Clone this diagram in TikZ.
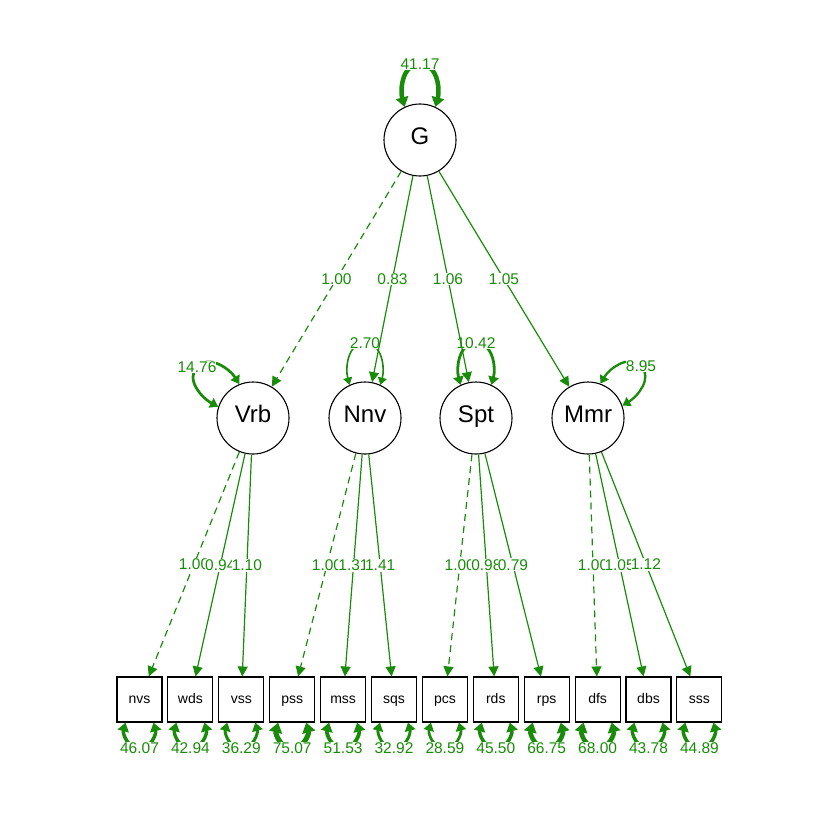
\documentclass[tikz,border=0pt]{standalone}
\usepackage{fontspec}
\setmainfont{Liberation Sans}
\usetikzlibrary{arrows.meta,calc}
\definecolor{sem}{RGB}{24,140,8}
\begin{document}
\begin{tikzpicture}[x=1pt,y=-1pt,
 lat/.style={circle,draw,line width=1.1pt,fill=white,minimum size=72pt,inner sep=0pt,text height=0.94em,text depth=0pt,font=\fontsize{24}{24}\selectfont},
 man/.style={rectangle,draw,line width=1.1pt,fill=white,minimum size=45pt,inner sep=0pt,text height=0.86em,text depth=0pt,font=\fontsize{14}{14}\selectfont},
 ld/.style={draw=sem,line width=1.2pt,-{Triangle[length=10pt,width=10pt]}},
 fixd/.style={ld,dash pattern=on 7pt off 5pt},
 lab/.style={text=sem,fill=white,inner xsep=0pt,inner ysep=1pt,font=\fontsize{15.5}{15.5}\selectfont},
 var/.style={draw=sem,line width=#1,{Triangle[length=6pt 0.8,width=7pt 1.2]}-{Triangle[length=6pt 0.8,width=7pt 1.2]}},
]
\useasboundingbox (0,0) rectangle (840,840);
% latent nodes
\node[lat] (G) at (420,140) {G};
\node[lat] (Vrb) at (253,418) {Vrb};
\node[lat] (Nnv) at (365,418) {Nnv};
\node[lat] (Spt) at (476,418) {Spt};
\node[lat] (Mmr) at (588,418) {Mmr};
% manifest nodes
\foreach \n [count=\i from 0] in {nvs,wds,vss,pss,mss,sqs,pcs,rds,rps,dfs,dbs,sss}
  \node[man] (\n) at ({139.5+50.9*\i},699.5) {\n};
% latent variances
\coordinate (mG) at (420,64);
\draw[var=4.5pt] (G.115) to[out=105,in=180] (mG) to[out=0,in=75] (G.65);
\node[lab] (lG) at (mG) {41.17};
\coordinate (mVrb) at (197,367);
\draw[var=2.7pt] (Vrb.162) to[out=152,in=227] (mVrb) to[out=47,in=122] (Vrb.112);
\node[lab] (lVrb) at (mVrb) {14.76};
\coordinate (mNnv) at (365,343);
\draw[var=1.6pt] (Nnv.115) to[out=105,in=180] (mNnv) to[out=0,in=75] (Nnv.65);
\node[lab] (lNnv) at (mNnv) {2.70};
\coordinate (mSpt) at (476,343);
\draw[var=2.8pt] (Spt.115) to[out=105,in=180] (mSpt) to[out=0,in=75] (Spt.65);
\node[lab] (lSpt) at (mSpt) {10.42};
\coordinate (mMmr) at (641,366);
\draw[var=2.3pt] (Mmr.70) to[out=60,in=135] (mMmr) to[out=-45,in=30] (Mmr.20);
\node[lab] (lMmr) at (mMmr) {8.95};
% residual variances
\foreach \n/\v/\w in {nvs/46.07/3.5,wds/42.94/3.4,vss/36.29/3.0,pss/75.07/5.0,mss/51.53/3.8,sqs/32.92/2.9,pcs/28.59/2.7,rds/45.50/3.5,rps/66.75/4.6,dfs/68.00/4.6,dbs/43.78/3.4,sss/44.89/3.5}{
  \draw[var=\w pt] ([xshift=-14pt]\n.south) to[out=255,in=180] ([yshift=-26pt]\n.south) to[out=0,in=285] ([xshift=14pt]\n.south);
  \node[lab] (l\n) at ([yshift=-26pt]\n.south) {\v};
}
% loadings of G
\draw[fixd] (G) -- node[lab] (gl1) {1.00} (Vrb);
\draw[ld] (G) -- node[lab] (gl2) {0.83} (Nnv);
\draw[ld] (G) -- node[lab] (gl3) {1.06} (Spt);
\draw[ld] (G) -- node[lab] (gl4) {1.05} (Mmr);
% loadings of first-order factors
\draw[fixd] (Vrb) -- node[lab] (v1) {1.00} (nvs);
\draw[ld] (Vrb) -- node[lab] (v2) {0.94} (wds);
\draw[ld] (Vrb) -- node[lab] (v3) {1.10} (vss);
\draw[fixd] (Nnv) -- node[lab] (n1) {1.00} (pss);
\draw[ld] (Nnv) -- node[lab] (n2) {1.31} (mss);
\draw[ld] (Nnv) -- node[lab] (n3) {1.41} (sqs);
\draw[fixd] (Spt) -- node[lab] (s1) {1.00} (pcs);
\draw[ld] (Spt) -- node[lab] (s2) {0.98} (rds);
\draw[ld] (Spt) -- node[lab] (s3) {0.79} (rps);
\draw[fixd] (Mmr) -- node[lab] (m1) {1.00} (dfs);
\draw[ld] (Mmr) -- node[lab] (m2) {1.05} (dbs);
\draw[ld] (Mmr) -- node[lab] (m3) {1.12} (sss);
\end{tikzpicture}
\end{document}
